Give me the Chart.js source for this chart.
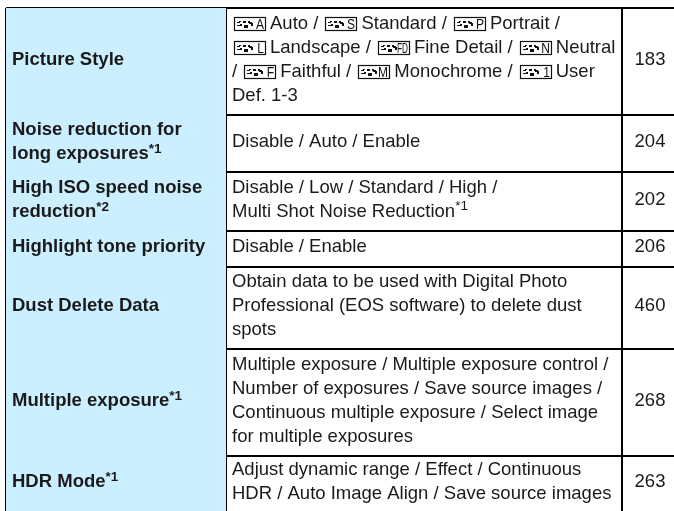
<!DOCTYPE html>
<html>
<head>
<meta charset="utf-8">
<style>
  html, body { margin: 0; padding: 0; background: #fff; }
  #wrap { width: 674px; height: 511px; }
</style>
</head>
<body>
<div id="wrap"><canvas id="tabla" width="674" height="511"></canvas></div>
<script src="https://cdn.jsdelivr.net/npm/chart.js@4"></script>
<script>
// Rows of the table, top to bottom
const settings = [
  ["Picture Style"],
  ["Noise reduction for", "long exposures^*1"],
  ["High ISO speed noise", "reduction^*2"],
  ["Highlight tone priority"],
  ["Dust Delete Data"],
  ["Multiple exposure^*1"],
  ["HDR Mode^*1"]
];
const options = [
  ["{A}Auto / {S}Standard / {P}Portrait /", "{L}Landscape / {FD}Fine Detail / {N}Neutral", "/ {F}Faithful / {M}Monochrome / {1}User", "Def. 1-3"],
  ["Disable / Auto / Enable"],
  ["Disable / Low / Standard / High /", "Multi Shot Noise Reduction~*1"],
  ["Disable / Enable"],
  ["Obtain data to be used with Digital Photo", "Professional (EOS software) to delete dust", "spots"],
  ["Multiple exposure / Multiple exposure control /", "Number of exposures / Save source images /", "Continuous multiple exposure / Select image", "for multiple exposures"],
  ["Adjust dynamic range / Effect / Continuous", "HDR / Auto Image Align / Save source images"]
];
const pages = ["183", "204", "202", "206", "460", "268", "263"];

// Table rules
const columnEdges = [6, 226, 622];
const rowEdges = [8, 115, 172, 231, 267, 349, 456];
const xEnd = 674;
const yEnd = 511;

const TEXTO = "#1a1a1a";
const AZUL = "#ccefff";
const FUENTE = '"Liberation Sans", Arial, sans-serif';

// Little Picture Style icon: box, scene marks and the letter
function dibujarIcono(ctx, x, base, letra) {
  const w = 31, h = 13, ix = x + 2;
  const px = Math.round(ix), py = Math.round(base - 12);
  ctx.save();
  ctx.strokeStyle = "#111";
  ctx.lineWidth = 1.2;
  ctx.strokeRect(px + 0.5, py + 0.5, w, h);
  ctx.fillStyle = "#111";
  // scene marks
  ctx.fillRect(px + 3, py + 5, 3, 1);
  ctx.fillRect(px + 5, py + 4, 2, 1);
  ctx.fillRect(px + 3, py + 8, 5, 1);
  ctx.fillRect(px + 6, py + 7, 2, 1);
  ctx.fillRect(px + 9, py + 4, 3, 2);
  ctx.fillRect(px + 10, py + 8, 4, 3);
  ctx.fillRect(px + 14, py + 4, 2, 2);
  ctx.fillRect(px + 15, py + 6, 4, 1);
  ctx.fillRect(px + 16, py + 5, 2, 1);
  ctx.fillRect(px + 17, py + 7, 2, 2);
  // tall narrow letter
  ctx.translate(px + w - 1, py + 12);
  ctx.scale(letra.length > 1 ? 0.55 : 0.8, 1);
  ctx.font = "15px " + FUENTE;
  ctx.textAlign = "right";
  ctx.fillText(letra, 0, 0);
  ctx.restore();
  return w + 7;
}

// Writes one line with its inline marks: {X} icon, ^ bold superscript, ~ plain superscript
function escribirLinea(ctx, texto, x, base, bold) {
  const normal = (bold ? "bold " : "") + "18.5px " + FUENTE;
  const partes = texto.split(/(\{[^}]+\}|[\^~]\*\d)/).filter(p => p !== "");
  partes.forEach(p => {
    if (p[0] === "{") {
      x += dibujarIcono(ctx, x, base, p.slice(1, -1));
    } else if (p[0] === "^" || p[0] === "~") {
      ctx.font = (bold ? "bold " : "") + "13.5px " + FUENTE;
      ctx.fillText(p.slice(1), x, base - (bold ? 6 : 7));
      x += ctx.measureText(p.slice(1)).width;
    } else {
      ctx.font = normal;
      ctx.fillText(p, x, base);
      x += ctx.measureText(p).width;
    }
  });
}

const textoTabla = {
  id: "textoTabla",
  afterDraw(chart) {
    const { ctx, scales } = chart;
    const lineH = 24;
    ctx.save();
    ctx.fillStyle = TEXTO;
    ctx.textBaseline = "alphabetic";
    ctx.textAlign = "left";
    rowEdges.forEach((edge, i) => {
      const next = i + 1 < rowEdges.length ? rowEdges[i + 1] : yEnd;
      const mid = (scales.y.getPixelForValue(edge) + scales.y.getPixelForValue(next)) / 2;
      // the text sits a little above the middle of each row
      const primera = lineas => mid + 3 - (lineas.length - 1) * lineH / 2;
      const x1 = scales.x.getPixelForValue(columnEdges[0]) + 6;
      const x2 = scales.x.getPixelForValue(columnEdges[1]) + 6;
      settings[i].forEach((t, k) => escribirLinea(ctx, t, x1, primera(settings[i]) + k * lineH, true));
      options[i].forEach((t, k) => escribirLinea(ctx, t, x2, primera(options[i]) + k * lineH, false));
      ctx.font = "18.5px " + FUENTE;
      ctx.textAlign = "center";
      ctx.fillText(pages[i], scales.x.getPixelForValue(columnEdges[2]) + 28, primera([pages[i]]));
      ctx.textAlign = "left";
    });
    ctx.restore();
  }
};

new Chart(document.getElementById("tabla"), {
  type: "line",
  data: {
    datasets: [{
      // light blue first column
      data: [
        { x: columnEdges[0], y: rowEdges[0] },
        { x: columnEdges[1], y: rowEdges[0] }
      ],
      borderWidth: 0,
      pointRadius: 0,
      backgroundColor: AZUL,
      fill: { value: yEnd }
    }]
  },
  options: {
    responsive: false,
    animation: false,
    layout: { padding: { left: columnEdges[0], top: rowEdges[0], right: 0, bottom: 0 } },
    plugins: { legend: { display: false }, tooltip: { enabled: false } },
    scales: {
      x: {
        type: "linear",
        min: columnEdges[0],
        max: xEnd,
        afterBuildTicks: s => { s.ticks = columnEdges.map(v => ({ value: v })); },
        ticks: { display: false },
        border: { display: false },
        grid: { color: "#000", lineWidth: 2, drawTicks: false }
      },
      y: {
        type: "linear",
        reverse: true,
        min: rowEdges[0],
        max: yEnd,
        afterBuildTicks: s => { s.ticks = rowEdges.map(v => ({ value: v })); },
        ticks: { display: false },
        border: { display: false },
        grid: { color: "#000", lineWidth: 2, drawTicks: false }
      }
    }
  },
  plugins: [textoTabla]
});
</script>
</body>
</html>
